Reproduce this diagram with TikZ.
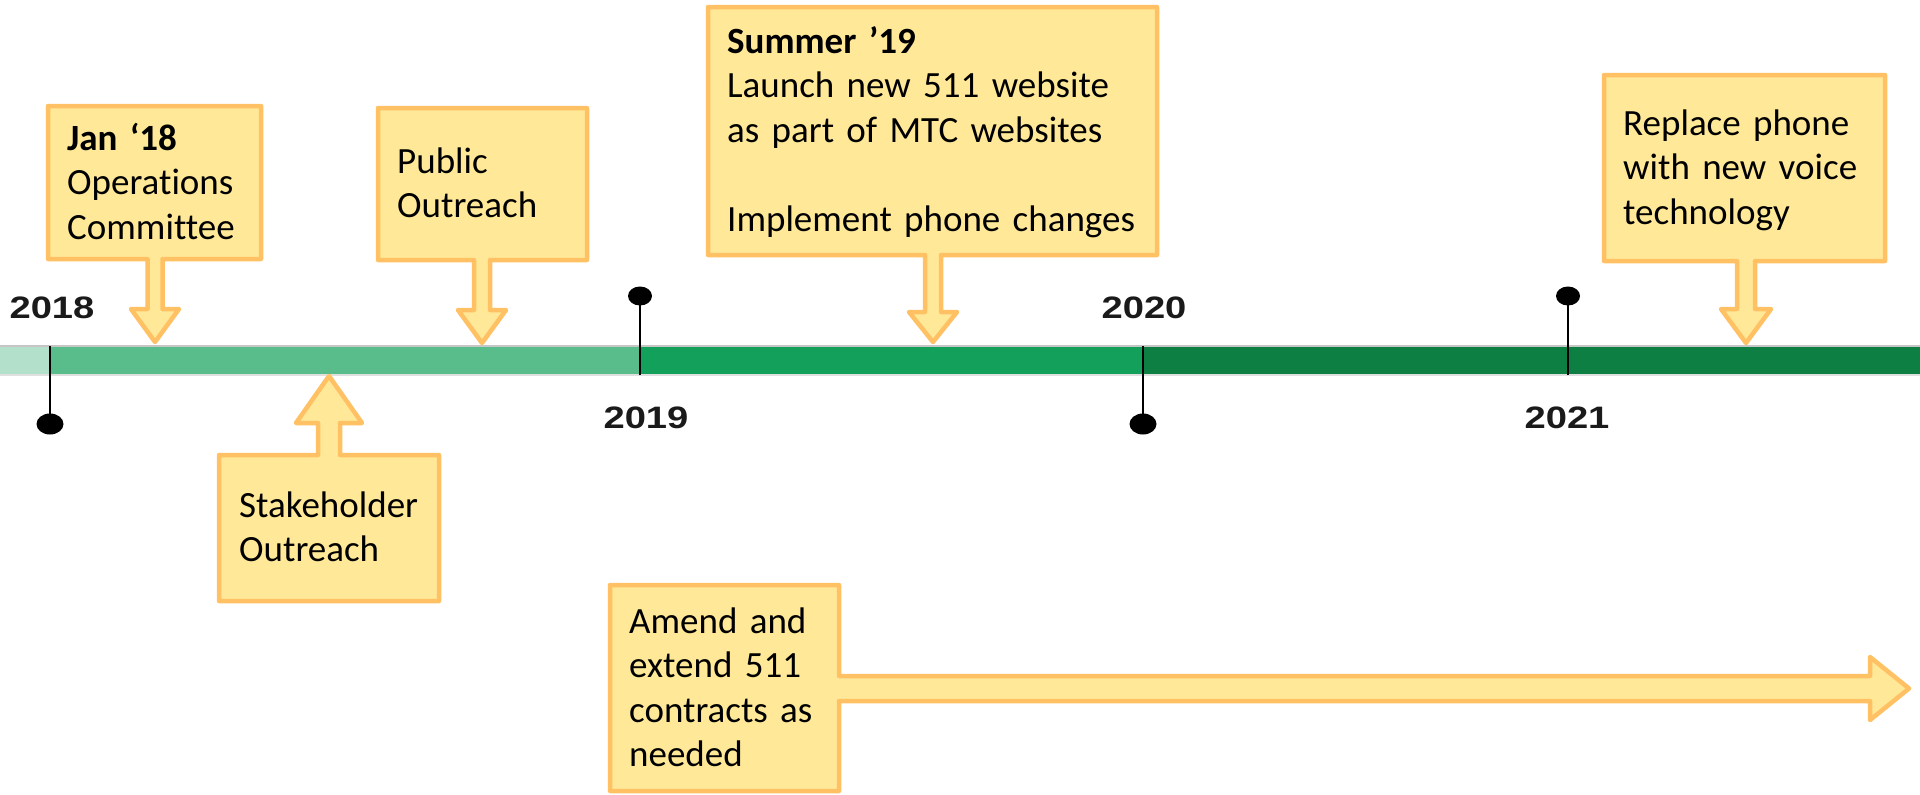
\documentclass[tikz,border=0pt]{standalone}
\usepackage{fontspec}
\setmainfont[Ligatures=NoCommon]{Carlito}
\newfontfamily\yearfont[FakeStretch=1.23]{Liberation Sans Bold}
\usetikzlibrary{shapes.geometric}
\definecolor{boxfill}{HTML}{FFE998}
\definecolor{boxline}{HTML}{FFC163}
\definecolor{barlight}{HTML}{B3E0CA}
\definecolor{barmid}{HTML}{59BC8B}
\definecolor{bargreen}{HTML}{13A05B}
\definecolor{bardark}{HTML}{0E7F43}
\definecolor{yeartext}{HTML}{1A1A1A}
% #1 L, #2 box edge far from arrow, #3 R, #4 box edge carrying arrow, #5 cx, #6 shaft half, #7 head half, #8 head base, #9 tip
\newcommand\calldown[9]{\path[callout] (#1,#2) -- (#3,#2) -- (#3,#4) -- ({#5+#6},#4) -- ({#5+#6},#8) -- ({#5+#7},#8) -- (#5,#9) -- ({#5-#7},#8) -- ({#5-#6},#8) -- ({#5-#6},#4) -- (#1,#4) -- cycle;}
\begin{document}
\begin{tikzpicture}[x=1pt,y=-1pt,
  callout/.style={fill=boxfill,draw=boxline,line width=4.5pt,line join=round},
  boxtext/.style={anchor=base west,inner sep=0pt,text width=520pt,align=left,font=\fontsize{37}{44.5}\selectfont},
  yearlbl/.style={anchor=base,inner sep=0pt,font=\yearfont\fontsize{31}{31}\selectfont,text=yeartext},
  dottop/.style={ellipse,fill=black,inner sep=0pt,minimum width=24pt,minimum height=19pt},
  dotbot/.style={ellipse,fill=black,inner sep=0pt,minimum width=27pt,minimum height=21pt},
  tickline/.style={line width=2pt,black}]
\fill[white] (0,0) rectangle (1920,795);
\useasboundingbox (0,0) rectangle (1920,795);

% timeline bar
\fill[barlight] (0,346) rectangle (49,375);
\fill[barmid] (49,346) rectangle (640,375);
\fill[bargreen] (640,346) rectangle (1143,375);
\fill[bardark] (1143,346) rectangle (1920,375);
\draw[gray!45,line width=1.2pt] (0,346) -- (1920,346);
\draw[gray!25,line width=1.2pt] (0,375) -- (1920,375);

% ticks
\node[dotbot] (d18) at (50,424) {};
\node[dottop] (d19) at (640,296) {};
\node[dotbot] (d20) at (1143,424) {};
\node[dottop] (d21) at (1568,296) {};
\coordinate (t18) at (50,346);
\coordinate (t19) at (640,375);
\coordinate (t20) at (1143,346);
\coordinate (t21) at (1568,375);
\draw[tickline] (t18) -- (d18.center);
\draw[tickline] (t19) -- (d19.center);
\draw[tickline] (t20) -- (d20.center);
\draw[tickline] (t21) -- (d21.center);

% year labels
\node[yearlbl] (y18) at (52,318) {2018};
\node[yearlbl] (y19) at (646,428) {2019};
\node[yearlbl] (y20) at (1144,318) {2020};
\node[yearlbl] (y21) at (1567,428) {2021};

% callouts
\calldown{48}{106}{261}{259}{155}{7.5}{24}{309}{342}
\calldown{378}{108}{587}{260}{482}{8}{24}{310}{343}
\calldown{219}{601}{439}{455}{329}{11}{33}{423}{376}
\calldown{708}{7}{1157}{255}{933}{8}{24}{312}{342}
\calldown{1604}{75}{1885}{261}{1746}{9}{25}{309}{343}
\path[callout] (610,585) -- (839,585) -- (839,676) -- (1870,676) -- (1870,657) -- (1909,688.5) -- (1870,720) -- (1870,701) -- (839,701) -- (839,791) -- (610,791) -- cycle;

% texts
\node[boxtext] (jan) at (67,150) {\textbf{Jan ‘18}\\Operations\\Committee};
\node[boxtext] (pub) at (397,173) {Public\\Outreach};
\node[boxtext] (stk) at (239,517) {Stakeholder\\Outreach};
\node[boxtext] (sum) at (727,53) {\textbf{Summer ’19}\\Launch new 511 website\\as part of MTC websites\\[44.5pt]Implement phone changes};
\node[boxtext] (rep) at (1623,135) {Replace phone\\with new voice\\technology};
\node[boxtext] (amd) at (629,633) {Amend and\\extend 511\\contracts as\\needed};
\end{tikzpicture}
\end{document}
